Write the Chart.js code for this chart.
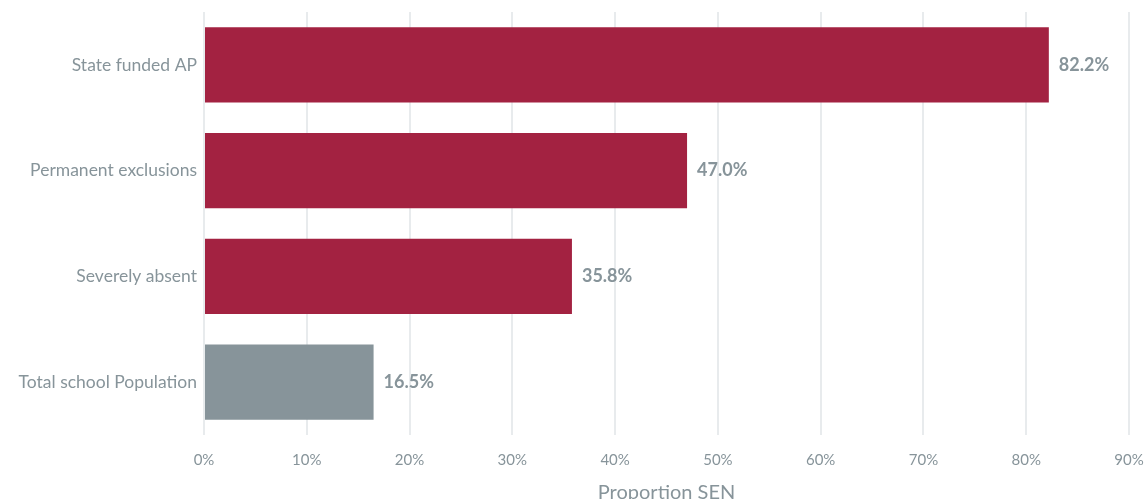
<!DOCTYPE html>
<html>
<head>
<meta charset="utf-8">
<script src="https://cdn.jsdelivr.net/npm/chart.js@4"></script>
<style>
  html, body { margin: 0; padding: 0; background: #fff; overflow: hidden; }
</style>
</head>
<body>
<canvas id="senChart" width="1146" height="505"></canvas>
<script>
const categories = ['State funded AP', 'Permanent exclusions', 'Severely absent', 'Total school Population'];
const senShare = [82.2, 47.0, 35.8, 16.5];
const barColours = ['#A32241', '#A32241', '#A32241', '#87949A'];
const xTicks = [0, 10, 20, 30, 40, 50, 60, 70, 80, 90];

const textGrey = '#87949A';
const fontFamily = 'Lato, "Open Sans", sans-serif';

// value labels drawn just past the end of each bar
const barValueLabels = {
    id: 'barValueLabels',
    afterDatasetsDraw(chart) {
        const ctx = chart.ctx;
        const meta = chart.getDatasetMeta(0);
        ctx.save();
        ctx.font = 'bold 18px ' + fontFamily;
        ctx.fillStyle = textGrey;
        ctx.textAlign = 'left';
        ctx.textBaseline = 'middle';
        meta.data.forEach((bar, i) => {
            ctx.fillText(senShare[i].toFixed(1) + '%', bar.x + 10, bar.y);
        });
        ctx.restore();
    }
};

let ctx = document.getElementById('senChart').getContext('2d');

let senChart = new Chart(ctx, {
    type: 'bar',
    data: {
        labels: categories,
        datasets: [{
            data: senShare,
            backgroundColor: barColours,
            borderWidth: 0,
            barPercentage: 0.71,
            categoryPercentage: 1.0,
        }]
    },
    options: {
        indexAxis: 'y',
        responsive: false,
        animation: false,
        layout: {
            padding: { top: 12, right: 0, left: 0, bottom: 0 }
        },
        scales: {
            x: {
                min: 0,
                max: 90,
                afterBuildTicks: function(scale) {
                    scale.ticks = xTicks.map(v => ({ value: v }));
                },
                afterFit: function(scale) {
                    scale.height = 70;
                    scale.paddingLeft = 0;
                    scale.paddingRight = 17;
                },
                grid: {
                    color: '#E8EBED',
                    lineWidth: 2,
                    drawTicks: false,
                },
                border: { display: false },
                ticks: {
                    padding: 16,
                    color: textGrey,
                    font: { family: fontFamily, size: 15 },
                    callback: function(value) {
                        return value + '%';
                    }
                },
                title: {
                    display: true,
                    text: 'Proportion SEN',
                    color: textGrey,
                    font: { family: fontFamily, size: 20 },
                    padding: { top: 8, bottom: 0 }
                }
            },
            y: {
                afterFit: function(scale) {
                    scale.width = 204;
                    scale.paddingTop = 0;
                    scale.paddingBottom = 0;
                },
                grid: { display: false, drawTicks: false },
                border: { display: false },
                ticks: {
                    padding: 7,
                    color: textGrey,
                    font: { family: fontFamily, size: 17.5 }
                }
            }
        },
        plugins: {
            legend: { display: false },
            tooltip: { enabled: false }
        }
    },
    plugins: [barValueLabels]
});
</script>
</body>
</html>
